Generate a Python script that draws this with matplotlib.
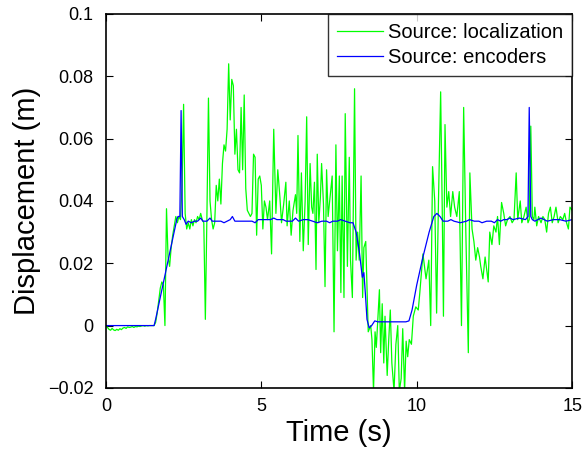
import numpy as np
import matplotlib
matplotlib.use("Agg")
import matplotlib.pyplot as plt

plt.rcParams['font.family'] = ['Liberation Sans', 'DejaVu Sans']

# localization (green)
t_loc = [0.0, 0.05, 0.1, 0.15, 0.2, 0.25, 0.3, 0.35, 0.4, 0.45, 0.5, 0.55, 0.6, 0.65, 0.7,
         0.75, 0.8, 0.85, 0.9, 0.95, 1.0, 1.05, 1.1, 1.15, 1.2, 1.25, 1.3, 1.35, 1.4, 1.45, 1.5,
         1.55, 1.6, 1.65, 1.7, 1.75, 1.8, 1.85, 1.9, 1.95, 2.0, 2.05, 2.1, 2.15, 2.2, 2.25, 2.3,
         2.35, 2.4, 2.45, 2.5, 2.55, 2.6, 2.65, 2.7, 2.75, 2.8, 2.85, 2.9, 2.95, 3.0, 3.05, 3.1,
         3.15, 3.2, 3.25, 3.3, 3.35, 3.4, 3.45, 3.5, 3.55, 3.6, 3.65, 3.7, 3.75, 3.8, 3.85, 3.9,
         3.95, 4.0, 4.05, 4.1, 4.15, 4.2, 4.25, 4.3, 4.35, 4.4, 4.45, 4.5, 4.55, 4.6, 4.65, 4.7,
         4.75, 4.8, 4.85, 4.9, 4.95, 5.0, 5.05, 5.1, 5.15, 5.2, 5.27, 5.33, 5.4, 5.47, 5.53, 5.6,
         5.65, 5.72, 5.79, 5.83, 5.9, 5.96, 6.02, 6.1, 6.14, 6.18, 6.24, 6.29, 6.35, 6.41, 6.46,
         6.51, 6.57, 6.62, 6.66, 6.71, 6.76, 6.8, 6.85, 6.9, 6.94, 7.0, 7.05, 7.1, 7.15, 7.22,
         7.28, 7.34, 7.4, 7.45, 7.51, 7.56, 7.6, 7.66, 7.7, 7.77, 7.83, 7.87, 7.93, 8.0, 8.05,
         8.1, 8.15, 8.21, 8.26, 8.3, 8.36, 8.44, 8.52, 8.56, 8.61, 8.66, 8.7, 8.75, 8.8, 8.84,
         8.89, 8.94, 8.98, 9.05, 9.1, 9.15, 9.2, 9.27, 9.33, 9.39, 9.44, 9.5, 9.55, 9.61, 9.66,
         9.71, 9.76, 9.83, 9.89, 9.97, 10.05, 10.1, 10.2, 10.3, 10.39, 10.45, 10.51, 10.58,
         10.64, 10.7, 10.77, 10.82, 10.86, 10.91, 10.97, 11.03, 11.09, 11.16, 11.22, 11.29,
         11.37, 11.44, 11.51, 11.58, 11.66, 11.71, 11.78, 11.84, 11.9, 11.96, 12.02, 12.06,
         12.13, 12.2, 12.25, 12.3, 12.35, 12.42, 12.48, 12.55, 12.6, 12.66, 12.73, 12.8, 12.86,
         12.92, 13.0, 13.07, 13.13, 13.2, 13.25, 13.33, 13.38, 13.45, 13.52, 13.58, 13.62,
         13.67, 13.72, 13.77, 13.8, 13.86, 13.92, 14.0, 14.06, 14.12, 14.18, 14.24, 14.3,
         14.36, 14.42, 14.48, 14.55, 14.62, 14.7, 14.76, 14.82, 14.88, 14.93, 15.0]
d_loc = [0.0, -0.0006, -0.0012, -0.0015, -0.0009, -0.0014, -0.0016, -0.0012, -0.0015, -0.001,
         -0.0013, -0.0008, -0.0006, -0.0009, -0.0004, -0.0006, -0.0005, -0.0003, -0.0006,
         -0.0003, -0.0004, -0.0002, -0.0003, -0.0001, 0.0, -0.0002, 0.0, -0.0001, 0.0, 0.0, 0.0,
         0.0, 0.001, 0.004, 0.008, 0.012, 0.014, 0.013, 0.0, 0.0375, 0.022, 0.019, 0.025, 0.029,
         0.032, 0.035, 0.033, 0.035, 0.034, 0.045, 0.071, 0.036, 0.031, 0.033, 0.031, 0.034,
         0.032, 0.034, 0.033, 0.035, 0.034, 0.036, 0.034, 0.033, 0.002, 0.035, 0.073, 0.04,
         0.034, 0.031, 0.033, 0.045, 0.04, 0.047, 0.039, 0.052, 0.058, 0.056, 0.063, 0.084,
         0.066, 0.079, 0.077, 0.055, 0.063, 0.05, 0.049, 0.07, 0.05, 0.074, 0.044, 0.037, 0.036,
         0.035, 0.036, 0.055, 0.054, 0.029, 0.047, 0.048, 0.045, 0.031, 0.04, 0.038, 0.034, 0.04,
         0.023, 0.063, 0.036, 0.05, 0.041, 0.033, 0.039, 0.046, 0.032, 0.04, 0.029, 0.037,
         0.042, 0.036, 0.061, 0.027, 0.049, 0.024, 0.04, 0.067, 0.026, 0.052, 0.038, 0.036,
         0.046, 0.018, 0.055, 0.033, 0.041, 0.052, 0.039, 0.0125, 0.05, 0.035, 0.042, 0.048,
         -0.002, 0.058, 0.024, 0.048, 0.0106, 0.048, 0.009, 0.068, 0.019, 0.054, 0.021, 0.009,
         0.076, 0.021, 0.03, 0.021, 0.048, 0.009, 0.025, 0.027, -0.002, 0.0, -0.0045, -0.021,
         -0.002, -0.007, 0.002, 0.0115, -0.0087, 0.007, -0.012, 0.003, -0.016, -0.0045, 0.005,
         -0.012, -0.021, -0.006, 0.0, -0.021, -0.017, -0.001, -0.021, -0.005, -0.01, -0.0045,
         -0.006, 0.003, 0.006, 0.005, 0.0106, 0.023, 0.015, 0.021, 0.0, 0.051, 0.04, 0.004,
         0.04, 0.075, 0.038, 0.003, 0.0645, 0.038, 0.043, 0.035, 0.043, 0.038, 0.035, 0.043,
         0.0, 0.07, 0.03, -0.0087, 0.049, 0.031, 0.027, 0.021, 0.025, 0.022, 0.019, 0.015,
         0.022, 0.018, 0.014, 0.03, 0.026, 0.032, 0.03, 0.035, 0.026, 0.0395, 0.036, 0.032,
         0.034, 0.035, 0.033, 0.034, 0.049, 0.034, 0.04, 0.033, 0.035, 0.038, 0.033, 0.034,
         0.064, 0.035, 0.034, 0.038, 0.032, 0.035, 0.033, 0.035, 0.034, 0.03, 0.036, 0.038,
         0.033, 0.035, 0.038, 0.033, 0.035, 0.034, 0.036, 0.033, 0.031, 0.038, 0.037]

# encoders (blue)
t_enc = [0.0, 1.55, 1.6, 2.28, 2.32, 2.38, 2.42, 2.46, 2.52, 2.58, 2.65, 2.75, 2.85, 2.95,
         3.05, 3.12, 3.25, 3.35, 3.42, 3.55, 3.7, 3.8, 3.9, 4.0, 4.07, 4.15, 4.3, 4.5, 4.7,
         4.8, 4.9, 5.1, 5.3, 5.4, 5.5, 5.7, 5.8, 6.0, 6.1, 6.2, 6.35, 6.5, 6.65, 6.8, 6.95,
         7.1, 7.2, 7.3, 7.45, 7.55, 7.7, 7.85, 7.95, 8.05, 8.15, 8.25, 8.3, 8.35, 8.4, 8.47,
         8.55, 8.65, 8.75, 9.0, 9.4, 9.65, 9.75, 9.85, 10.0, 10.2, 10.4, 10.55, 10.65, 10.75,
         10.85, 11.0, 11.1, 11.2, 11.4, 11.6, 11.7, 11.85, 12.0, 12.1, 12.25, 12.4, 12.5, 12.6,
         12.7, 12.8, 12.9, 13.0, 13.1, 13.3, 13.5, 13.58, 13.62, 13.67, 13.72, 13.8, 14.0,
         14.2, 14.4, 14.6, 14.8, 15.0]
d_enc = [0.0, 0.0, 0.002, 0.034, 0.035, 0.035, 0.069, 0.035, 0.034, 0.0325, 0.0335, 0.033,
         0.0335, 0.0335, 0.0345, 0.0335, 0.0335, 0.0345, 0.0335, 0.0335, 0.0335, 0.033, 0.0335,
         0.034, 0.035, 0.0335, 0.0335, 0.0335, 0.0335, 0.033, 0.034, 0.034, 0.034, 0.0345,
         0.034, 0.034, 0.0335, 0.0335, 0.0345, 0.0335, 0.034, 0.034, 0.0335, 0.033, 0.0335,
         0.0335, 0.033, 0.0335, 0.0335, 0.034, 0.0335, 0.033, 0.033, 0.03, 0.024, 0.0155, 0.017,
         0.01, 0.002, -0.0007, 0.0, 0.0015, 0.0012, 0.0012, 0.0012, 0.0012, 0.0015, 0.005, 0.013,
         0.022, 0.03, 0.035, 0.036, 0.035, 0.0335, 0.0335, 0.034, 0.0335, 0.033, 0.0335, 0.034,
         0.0335, 0.0335, 0.033, 0.0335, 0.0335, 0.033, 0.034, 0.0335, 0.034, 0.034, 0.0345,
         0.034, 0.0345, 0.034, 0.035, 0.07, 0.035, 0.034, 0.0335, 0.0345, 0.0335, 0.034, 0.034,
         0.0335, 0.034]

y_ticks = [-0.02, 0, 0.02, 0.04, 0.06, 0.08, 0.1]
y_labels = ['\u22120.02', '0', '0.02', '0.04', '0.06', '0.08', '0.1']
x_ticks = [0, 5, 10, 15]

fig = plt.figure(figsize=(5.85, 4.5), dpi=100)
ax = fig.add_axes([0.181, 0.138, 0.797, 0.831])

ax.plot(t_loc, d_loc, color='#00ff00', lw=0.9, label='Source: localization')
ax.plot(t_enc, d_enc, color='#0000ff', lw=0.9, label='Source: encoders')

ax.set_xlim(0, 15)
ax.set_ylim(-0.02, 0.1)
ax.set_xticks(x_ticks)
ax.set_yticks(y_ticks)
ax.set_yticklabels(y_labels)
ax.tick_params(direction='in', length=5, width=0.8, top=True, right=True, labelsize=13)
ax.tick_params(axis='x', pad=7)
ax.tick_params(axis='y', pad=9)
for s in ax.spines.values():
    s.set_linewidth(1.2)

ax.set_xlabel('Time (s)', fontsize=21, labelpad=3)
ax.set_ylabel('Displacement (m)', fontsize=21, labelpad=5)

leg = ax.legend(loc='upper right', fontsize=14.5, borderaxespad=0, frameon=True,
                fancybox=False, handlelength=2.3, handletextpad=0.25,
                borderpad=0.45, labelspacing=0.28)
leg.get_frame().set_edgecolor('black')
leg.get_frame().set_linewidth(1.0)

fig.savefig('out.png', dpi=100)
